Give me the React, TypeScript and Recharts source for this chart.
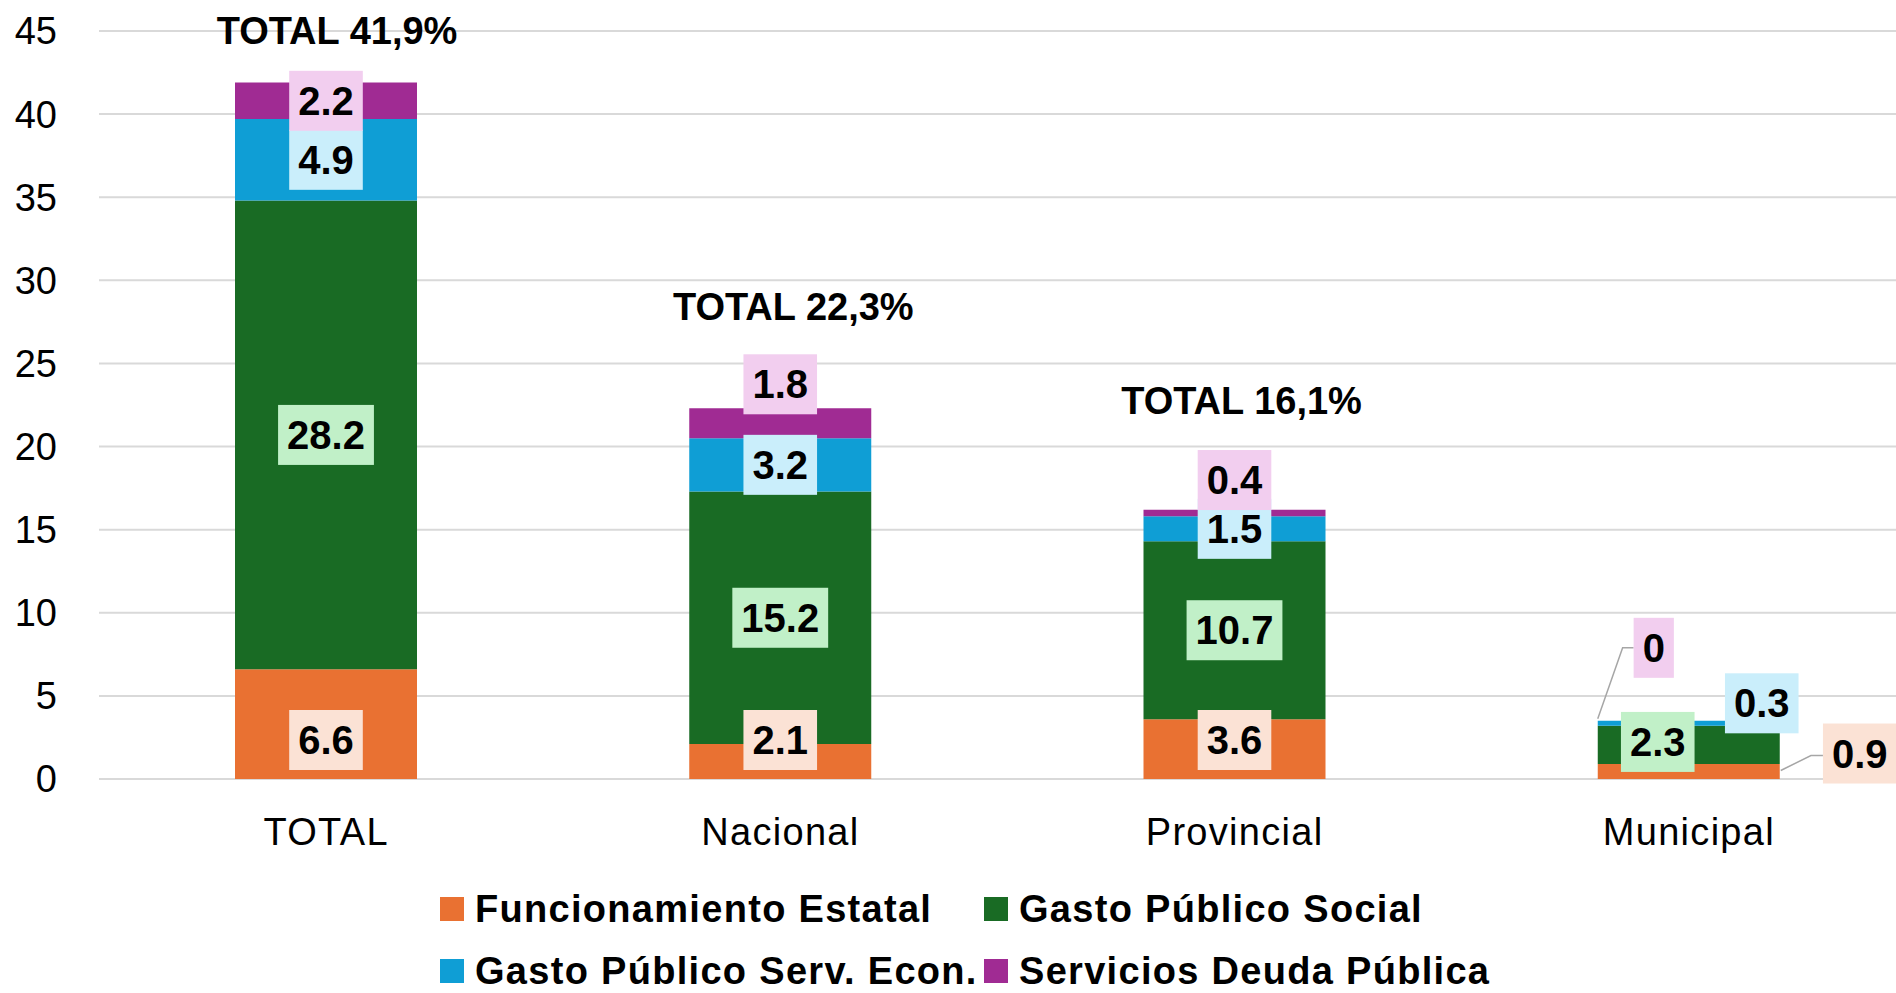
import React from 'react';
import { ComposedChart, Bar, XAxis, YAxis, CartesianGrid, LabelList, Legend } from 'recharts';

// ---------- data ----------
const categories = ['TOTAL', 'Nacional', 'Provincial', 'Municipal'];
const funcionamiento = [6.6, 2.1, 3.6, 0.9];
const gastoSocial = [28.2, 15.2, 10.7, 2.3];
const servEcon = [4.9, 3.2, 1.5, 0.3];
const deuda = [2.2, 1.8, 0.4, 0];
const totalLabels = ['TOTAL 41,9%', 'TOTAL 22,3%', 'TOTAL 16,1%', 'TOTAL 3,4%'];
const yTicks = [0, 5, 10, 15, 20, 25, 30, 35, 40, 45];
const seriesNames = {
  f: 'Funcionamiento Estatal',
  g: 'Gasto Público Social',
  s: 'Gasto Público Serv. Econ.',
  d: 'Servicios Deuda Pública',
};
const seriesValues: Record<string, number[]> = { f: funcionamiento, g: gastoSocial, s: servEcon, d: deuda };

const data = categories.map((name, i) => ({
  name,
  f: funcionamiento[i],
  g: gastoSocial[i],
  s: servEcon[i],
  d: deuda[i],
  total: totalLabels[i],
}));

// ---------- styles / layout ----------
const FONT = '"Liberation Sans", Arial, Helvetica, sans-serif';
const COLORS: Record<string, string> = { f: '#E97132', g: '#196B24', s: '#0F9ED5', d: '#A02B93' };
const LABEL_FILLS: Record<string, string> = { f: '#FBE2D5', g: '#C1F0C8', s: '#CAEEFB', d: '#F2CEEF' };
const LABEL_FONT = 40;
const BOX_H = 60;
const BOX_PAD = 9;

type Nudge = { dx: number; dy: number; leader?: 'topLeft' | 'right' };
const labelNudge: Record<string, Record<number, Nudge>> = {
  d: { 1: { dx: 0, dy: -39 }, 2: { dx: 0, dy: -33 }, 3: { dx: -35, dy: -73, leader: 'topLeft' } },
  s: { 3: { dx: 73, dy: -20 } },
  g: { 3: { dx: -31, dy: -3 } },
  f: { 3: { dx: 171, dy: -18, leader: 'right' } },
};
const totalOffsetY = [-52, -101, -109, -145];
const totalOffsetX = [11, 13, 7, 0];

const textWidth = (t: string, size: number) => {
  let w = 0;
  for (const ch of t) w += ch === '.' || ch === ',' ? 0.278 : 0.556;
  return w * size;
};

const getBox = (props: any) => {
  const vb = props.viewBox && typeof props.viewBox.x === 'number' ? props.viewBox : props;
  const x = Number(vb.x);
  const y = Number(vb.y);
  const w = Number(vb.width);
  const h = Number(vb.height) || 0;
  const top = Math.min(y, y + h);
  const bottom = Math.max(y, y + h);
  return { x, width: w, top, bottom };
};

const drawLabel = (key: string, index: number, x: number, width: number, top: number, bottom: number) => {
  const value = seriesValues[key][index];
  const txt = String(value);
  const bw = textWidth(txt, LABEL_FONT) + BOX_PAD * 2;
  const barCx = x + width / 2;
  const segCy = (top + bottom) / 2;
  const nudge = labelNudge[key] && labelNudge[key][index];
  let cx = barCx;
  let cy = key === 'f' ? bottom - 39 : segCy;
  if (nudge) {
    cx = barCx + nudge.dx;
    cy = segCy + nudge.dy;
  }
  let leader: string | null = null;
  if (nudge && nudge.leader === 'topLeft') {
    const lx = cx - bw / 2;
    leader = `${lx},${cy} ${lx - 11},${cy} ${x},${top - 2}`;
  } else if (nudge && nudge.leader === 'right') {
    const lx = cx - bw / 2;
    leader = `${lx},${cy + 2} ${lx - 12},${cy + 2} ${x + width + 1},${segCy - 1}`;
  }
  return (
    <g key={`${key}-${index}`}>
      {leader && <polyline points={leader} fill="none" stroke="#A6A6A6" strokeWidth={1.5} />}
      <rect x={cx - bw / 2} y={cy - BOX_H / 2} width={bw} height={BOX_H} fill={LABEL_FILLS[key]} />
      <text
        x={cx}
        y={cy}
        textAnchor="middle"
        dominantBaseline="central"
        fontFamily={FONT}
        fontSize={LABEL_FONT}
        fontWeight={700}
        fill="#000"
      >
        {txt}
      </text>
    </g>
  );
};

const makeValueLabel = (key: string) => (props: any) => {
  const index: number = props.index;
  if (index == null) return null;
  const { x, width, top, bottom } = getBox(props);
  if (!isFinite(x) || !isFinite(top)) return null;
  const main = drawLabel(key, index, x, width, top, bottom);
  // zero-height segments stacked above get no label entry from the library: draw them here at the stack top
  if (key === 's' && deuda[index] === 0) {
    return (
      <g>
        {main}
        {drawLabel('d', index, x, width, top, top)}
      </g>
    );
  }
  return main;
};

const renderTotal = (props: any) => {
  const index: number = props.index;
  if (index == null) return null;
  const { x, width, top } = getBox(props);
  if (!isFinite(x) || !isFinite(top)) return null;
  return (
    <text
      x={x + width / 2 + totalOffsetX[index]}
      y={top + totalOffsetY[index]}
      textAnchor="middle"
      dominantBaseline="central"
      fontFamily={FONT}
      fontSize={38}
      fontWeight={700}
      fill="#000"
    >
      {totalLabels[index]}
    </text>
  );
};

const legendOrder = ['f', 'g', 's', 'd'];
const renderLegend = () => (
  <div style={{ position: 'relative', width: 1916, height: 134, fontFamily: FONT }}>
    {legendOrder.map((k, i) => (
      <div
        key={k}
        style={{
          position: 'absolute',
          left: i % 2 === 0 ? 440 : 984,
          top: (i < 2 ? 50 : 112) - 15,
          height: 30,
          display: 'flex',
          alignItems: 'center',
          whiteSpace: 'nowrap',
        }}
      >
        <span style={{ display: 'inline-block', width: 24, height: 24, background: COLORS[k], marginRight: 11 }} />
        <span style={{ fontSize: 38, fontWeight: 700, letterSpacing: 1.3, lineHeight: '30px', color: '#000' }}>
          {(seriesNames as any)[k]}
        </span>
      </div>
    ))}
  </div>
);

export default function App() {
  return (
    <div
      style={{
        position: 'fixed',
        left: 0,
        top: 0,
        width: 1896,
        height: 993,
        overflow: 'hidden',
        background: '#fff',
      }}
    >
      <ComposedChart
        width={1916}
        height={993}
        data={data}
        margin={{ top: 31, right: 0, bottom: 0, left: 0 }}
      >
        <CartesianGrid vertical={false} stroke="#D9D9D9" strokeWidth={2} />
        <XAxis
          dataKey="name"
          axisLine={false}
          tickLine={false}
          tickSize={0}
          tickMargin={39}
          height={80}
          interval={0}
          tick={{ fontSize: 38, fill: '#000', fontFamily: FONT, letterSpacing: 1.3 }}
        />
        <YAxis
          domain={[0, 45]}
          ticks={yTicks}
          axisLine={false}
          tickLine={false}
          tickSize={0}
          tickMargin={42}
          width={99}
          interval={0}
          tick={{ fontSize: 38, fill: '#000', fontFamily: FONT }}
        />
        <Legend verticalAlign="bottom" content={renderLegend} wrapperStyle={{ left: 0, bottom: 0, width: 1916 }} />
        <Bar dataKey="f" name={seriesNames.f} stackId="a" fill={COLORS.f} barSize={182} isAnimationActive={false}>
          <LabelList dataKey="f" content={makeValueLabel('f')} />
        </Bar>
        <Bar dataKey="g" name={seriesNames.g} stackId="a" fill={COLORS.g} barSize={182} isAnimationActive={false}>
          <LabelList dataKey="g" content={makeValueLabel('g')} />
        </Bar>
        <Bar dataKey="s" name={seriesNames.s} stackId="a" fill={COLORS.s} barSize={182} isAnimationActive={false}>
          <LabelList dataKey="s" content={makeValueLabel('s')} />
        </Bar>
        <Bar dataKey="d" name={seriesNames.d} stackId="a" fill={COLORS.d} barSize={182} isAnimationActive={false}>
          <LabelList dataKey="d" content={makeValueLabel('d')} />
          <LabelList dataKey="total" content={renderTotal} />
        </Bar>
      </ComposedChart>
    </div>
  );
}
